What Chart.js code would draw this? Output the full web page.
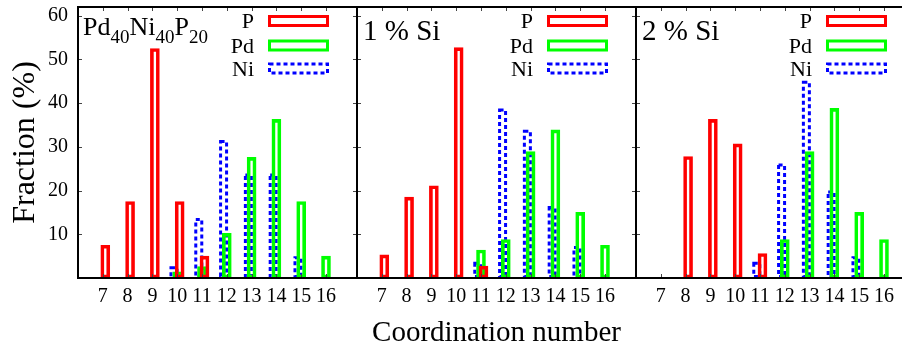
<!DOCTYPE html>
<html>
<head>
<title>Coordination number fractions</title>
<script src="https://cdn.jsdelivr.net/npm/chart.js"></script>
<style>
    body { margin: 0; overflow: hidden; background: #fff; }
    #wrap { position: relative; width: 902px; height: 357px; overflow: hidden; }
    canvas { position: absolute; top: 0; }
</style>
</head>
<body>
<div id="wrap">
    <canvas id="c1" width="367" height="357" style="left:0px"></canvas>
    <canvas id="c2" width="299" height="357" style="left:347px"></canvas>
    <canvas id="c3" width="299" height="357" style="left:626px"></canvas>
</div>
<script>
    // coordination numbers on the x axis
    const categories = [7, 8, 9, 10, 11, 12, 13, 14, 15, 16];
    const yTickValues = [10, 20, 30, 40, 50, 60];
    const seriesNames = ['P', 'Pd', 'Ni'];
    const seriesColors = ['#ff0000', '#00ff00', '#0000ff'];
    const seriesOffsets = [0.1, 0, -0.13]; // bars of a group sit slightly apart

    // Pd40Ni40P20
    const baseP  = [7.5, 17.5, 52.5, 17.5, 5.0, null, null, null, null, null];
    const basePd = [null, null, null, 1.4, 2.6, 10.2, 27.6, 36.3, 17.5, 5.0];
    const baseNi = [null, null, null, 2.7, 13.7, 31.6, 23.9, 23.9, 5.0, null];

    // 1 % Si
    const si1P  = [5.3, 18.5, 21.1, 52.7, 2.7, null, null, null, null, null];
    const si1Pd = [null, null, null, null, 6.4, 8.8, 28.9, 33.9, 15.0, 7.5];
    const si1Ni = [null, null, null, null, 3.7, 38.8, 33.9, 16.5, 7.3, null];

    // 2 % Si
    const si2P  = [null, 27.8, 36.3, 30.7, 5.6, null, null, null, null, null];
    const si2Pd = [null, null, null, null, null, 8.8, 28.9, 38.8, 15.0, 8.8];
    const si2Ni = [null, null, null, null, 3.7, 26.2, 45.1, 20.0, 5.0, null];

    const SERIF = "'Liberation Serif', 'DejaVu Serif', serif";
    Chart.defaults.font.family = SERIF;
    Chart.defaults.color = '#000';

    // frame, mirror ticks, dashed Ni bars, legend and panel label
    const panelDecor = {
        id: 'panelDecor',
        beforeDatasetsDraw(chart) {
            const ctx = chart.ctx;
            const meta = chart.getDatasetMeta(2);
            ctx.save();
            ctx.strokeStyle = seriesColors[2];
            ctx.lineWidth = 3;
            ctx.setLineDash([4, 3]);
            meta.data.forEach(bar => {
                const p = bar.getProps(['x', 'y', 'base', 'width'], true);
                ctx.strokeRect(p.x - p.width / 2 + 1.5, p.y + 1.5, p.width - 3, p.base - p.y - 3);
            });
            ctx.restore();
        },
        afterDraw(chart, args, opts) {
            const ctx = chart.ctx;
            const a = chart.chartArea;
            const xs = chart.scales.x, ys = chart.scales.y;
            ctx.save();
            // small inward ticks on all sides
            ctx.strokeStyle = '#444';
            ctx.lineWidth = 1;
            ctx.beginPath();
            categories.forEach(c => {
                const px = Math.round(xs.getPixelForValue(c)) + 0.5;
                ctx.moveTo(px, a.bottom); ctx.lineTo(px, a.bottom - 4);
                ctx.moveTo(px, a.top); ctx.lineTo(px, a.top + 4);
            });
            yTickValues.forEach(v => {
                const py = Math.round(ys.getPixelForValue(v)) + 0.5;
                ctx.moveTo(a.left, py); ctx.lineTo(a.left + 4, py);
                ctx.moveTo(a.right, py); ctx.lineTo(a.right - 4, py);
            });
            ctx.stroke();
            // border
            ctx.strokeStyle = '#000';
            ctx.lineWidth = 2;
            ctx.strokeRect(a.left, a.top, a.right - a.left, a.bottom - a.top);

            // legend
            ctx.font = '22px ' + SERIF;
            ctx.textAlign = 'right';
            ctx.textBaseline = 'alphabetic';
            const rows = [21, 45.5, 68.5];
            seriesNames.forEach((name, i) => {
                ctx.fillStyle = '#000';
                ctx.fillText(name, a.left + 176, rows[i] + 7);
                ctx.strokeStyle = seriesColors[i];
                ctx.lineWidth = 3;
                ctx.setLineDash(i === 2 ? [4, 3] : []);
                ctx.strokeRect(a.left + 191.5, rows[i] - 4.5, 58, 9);
            });
            ctx.setLineDash([]);

            // panel label, parts may be subscripts
            ctx.textAlign = 'left';
            ctx.fillStyle = '#000';
            let x = a.left + opts.labelX;
            opts.label.forEach(([txt, sub]) => {
                ctx.font = (sub ? opts.subSize : opts.labelSize) + 'px ' + SERIF;
                ctx.fillText(txt, x, sub ? opts.baseline + 8 : opts.baseline);
                x += ctx.measureText(txt).width;
            });
            ctx.restore();
        }
    };

    function makePanel(id, values, label, labelSize, first, middle) {
        const datasets = seriesNames.map((name, i) => ({
            label: name,
            data: categories
                .map((c, k) => values[i][k] == null ? null : { x: c + seriesOffsets[i], y: values[i][k] })
                .filter(d => d !== null),
            backgroundColor: 'rgba(0,0,0,0)',
            borderColor: seriesColors[i],
            borderWidth: i === 2 ? 0 : 3,
            borderSkipped: false,
            barThickness: 9,
            grouped: false
        }));

        return new Chart(document.getElementById(id), {
            type: 'bar',
            data: { datasets },
            options: {
                responsive: false,
                animation: false,
                devicePixelRatio: 1,
                layout: { padding: { top: 7, bottom: 0, left: first ? 0 : 10, right: 10 } },
                plugins: {
                    legend: { display: false },
                    tooltip: { enabled: false },
                    panelDecor: {
                        label: label,
                        labelSize: labelSize,
                        subSize: 19,
                        labelX: first ? 5 : 6,
                        baseline: first ? 35 : 40
                    }
                },
                scales: {
                    x: {
                        type: 'linear',
                        min: 6,
                        max: 17.25,
                        offset: false,
                        grid: { display: false, drawTicks: false },
                        border: { display: false },
                        ticks: {
                            stepSize: 1,
                            includeBounds: false,
                            autoSkip: false,
                            maxRotation: 0,
                            padding: 7,
                            font: { size: 20 },
                            callback: v => categories.includes(v) ? String(v) : ''
                        },
                        title: {
                            display: middle,
                            text: 'Coordination number',
                            font: { size: 29 },
                            padding: { top: 0, bottom: 6 }
                        },
                        afterFit: s => { s.height = 79; s.paddingLeft = 0; s.paddingRight = 0; }
                    },
                    y: {
                        display: first,
                        min: 0,
                        max: 62,
                        grid: { display: false, drawTicks: false },
                        border: { display: false },
                        ticks: {
                            stepSize: 10,
                            includeBounds: false,
                            padding: 10,
                            font: { size: 20 },
                            callback: v => yTickValues.includes(v) ? String(v) : ''
                        },
                        title: {
                            display: first,
                            text: 'Fraction (%)',
                            font: { size: 32 },
                            padding: { top: 6, bottom: 0 }
                        },
                        afterFit: s => { s.width = first ? 78 : 0; s.paddingTop = 0; s.paddingBottom = 0; }
                    }
                }
            },
            plugins: [panelDecor]
        });
    }

    makePanel('c1', [baseP, basePd, baseNi],
        [['Pd', false], ['40', true], ['Ni', false], ['40', true], ['P', false], ['20', true]], 26, true, false);
    makePanel('c2', [si1P, si1Pd, si1Ni], [['1 % Si', false]], 29, false, true);
    makePanel('c3', [si2P, si2Pd, si2Ni], [['2 % Si', false]], 29, false, false);
</script>
</body>
</html>
